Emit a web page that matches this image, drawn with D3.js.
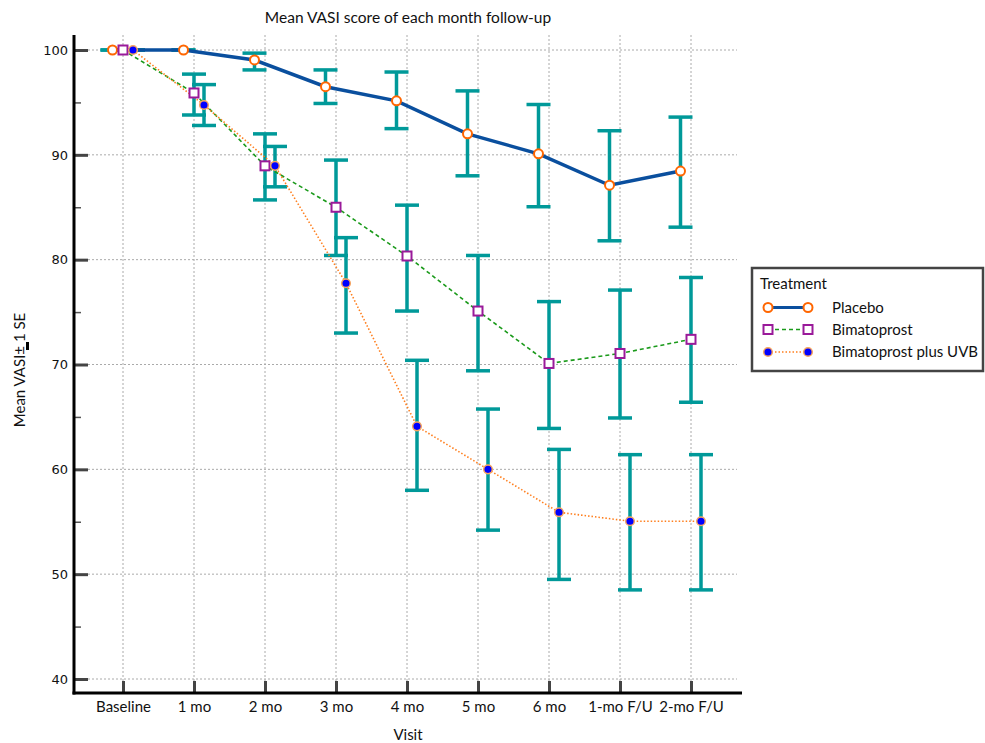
<!DOCTYPE html>
<html><head><meta charset="utf-8">
<script src="https://cdn.jsdelivr.net/npm/d3@7"></script>
<style>body{margin:0;background:#fff}svg{display:block}</style>
</head><body>
<script>
const categories = ["Baseline","1 mo","2 mo","3 mo","4 mo","5 mo","6 mo","1-mo F/U","2-mo F/U"];
const placebo   = [100,100,99.05,96.5,95.15,92.0,90.1,87.1,88.45];
const placeboLo = [100,100,98.1,94.9,92.5,88.0,85.05,81.8,83.1];
const placeboHi = [100,100,99.7,98.1,97.9,96.1,94.8,92.3,93.6];
const bimat   = [100,95.9,88.95,85.0,80.35,75.1,70.1,71.05,72.4];
const bimatLo = [100,93.8,85.7,80.4,75.1,69.4,63.9,64.9,66.4];
const bimatHi = [100,97.7,92.0,89.5,85.2,80.4,76.0,77.1,78.3];
const uvb   = [100,94.75,88.95,77.75,64.1,60.0,55.9,55.05,55.05];
const uvbLo = [100,92.8,86.95,73.0,58.0,54.2,49.5,48.5,48.5];
const uvbHi = [100,96.7,90.8,82.1,70.4,65.75,61.9,61.4,61.4];
const yTicks = [40,50,60,70,80,90,100];
const yMinor = [45,55,65,75,85,95];
const seriesNames = ["Placebo","Bimatoprost","Bimatoprost plus UVB"];

const W=985,H=743;
const svg=d3.select("body").append("svg").attr("width",W).attr("height",H);
const font="Lato, 'Open Sans', sans-serif";
const x=d3.scalePoint().domain(categories).range([123,691]);
const y=d3.scaleLinear().domain([40,100]).range([679,50]);
const axX=74, axY=693, gridRight=737, axRight=742, axTop=35;

// grid
const grid=svg.append("g").attr("stroke","#aaa").attr("stroke-width",1).attr("stroke-dasharray","2,2");
yTicks.forEach(t=>grid.append("line").attr("x1",88).attr("x2",gridRight).attr("y1",y(t)).attr("y2",y(t)));
categories.forEach(c=>grid.append("line").attr("x1",x(c)).attr("x2",x(c)).attr("y1",axTop).attr("y2",axY-12));

// y axis
const ya=svg.append("g").attr("transform",`translate(${axX},0)`)
  .call(d3.axisLeft(y).tickValues(yTicks).tickSize(-14).tickPadding(6).tickFormat(d3.format("d")));
ya.select(".domain").remove();
ya.selectAll(".tick line").attr("stroke","#444").attr("stroke-width",3);
ya.selectAll(".tick text").attr("font-family","'DejaVu Sans', sans-serif").attr("font-size",13).attr("fill","#111")
  .attr("x",-6);
const ym=svg.append("g").attr("transform",`translate(${axX},0)`)
  .call(d3.axisLeft(y).tickValues(yMinor).tickSize(-7).tickFormat(""));
ym.select(".domain").remove();
ym.selectAll(".tick line").attr("stroke","#555").attr("stroke-width",1.5);

// x axis
const xa=svg.append("g").attr("transform",`translate(0,${axY})`)
  .call(d3.axisBottom(x).tickSize(-12).tickPadding(8));
xa.select(".domain").remove();
xa.selectAll(".tick line").attr("stroke","#444").attr("stroke-width",3);
xa.selectAll(".tick text").attr("font-family",font).attr("font-size",15).attr("fill","#111");

// axis lines
svg.append("line").attr("x1",axX).attr("x2",axX).attr("y1",axTop).attr("y2",axY+1.5).attr("stroke","#000").attr("stroke-width",3);
svg.append("line").attr("x1",axX-1.5).attr("x2",axRight).attr("y1",axY).attr("y2",axY).attr("stroke","#000").attr("stroke-width",3);

// titles
svg.append("text").attr("x",408).attr("y",23).attr("text-anchor","middle").attr("font-family",font).attr("font-size",15.5).attr("fill","#111")
  .text("Mean VASI score of each month follow-up");
svg.append("text").attr("x",408).attr("y",740).attr("text-anchor","middle").attr("font-family",font).attr("font-size",15).attr("fill","#111").text("Visit");
const yl=svg.append("g").attr("transform","translate(25,370) rotate(-90)");
yl.append("text").attr("text-anchor","middle").attr("font-family",font).attr("font-size",15).attr("fill","#111").text("Mean VASI± 1 SE");
yl.append("rect").attr("x",20).attr("y",1).attr("width",8).attr("height",3).attr("fill","#000");

// series
const series=[
  {name:seriesNames[0],v:placebo,lo:placeboLo,hi:placeboHi,off:-10.5},
  {name:seriesNames[1],v:bimat,lo:bimatLo,hi:bimatHi,off:0},
  {name:seriesNames[2],v:uvb,lo:uvbLo,hi:uvbHi,off:10}
];
const eb=svg.append("g").attr("stroke","#009999").attr("stroke-width",3.5);
series.forEach(s=>{
  categories.forEach((c,i)=>{
    const cx=x(c)+s.off;
    eb.append("line").attr("x1",cx).attr("x2",cx).attr("y1",y(s.hi[i])).attr("y2",y(s.lo[i]));
    eb.append("line").attr("x1",cx-12).attr("x2",cx+12).attr("y1",y(s.hi[i])).attr("y2",y(s.hi[i]));
    eb.append("line").attr("x1",cx-12).attr("x2",cx+12).attr("y1",y(s.lo[i])).attr("y2",y(s.lo[i]));
  });
});
const lineStyles=[
  {stroke:"#0a4f9e",w:3.5,dash:null},
  {stroke:"#1a9a1a",w:1.6,dash:"4,3"},
  {stroke:"#ff7f1e",w:1.6,dash:"1.5,2"}
];
series.forEach((s,k)=>{
  const ln=d3.line().x((d,i)=>x(categories[i])+s.off).y(d=>y(d));
  svg.append("path").attr("d",ln(s.v)).attr("fill","none").attr("stroke",lineStyles[k].stroke)
    .attr("stroke-width",lineStyles[k].w).attr("stroke-dasharray",lineStyles[k].dash);
});
function marker(g,k,cx,cy){
  if(k===0) g.append("circle").attr("cx",cx).attr("cy",cy).attr("r",4.5).attr("fill","#fff").attr("stroke","#ff6600").attr("stroke-width",2);
  else if(k===1) g.append("rect").attr("x",cx-4.5).attr("y",cy-4.5).attr("width",9).attr("height",9).attr("fill","#fff").attr("stroke","#9a1a9a").attr("stroke-width",2);
  else g.append("circle").attr("cx",cx).attr("cy",cy).attr("r",4.3).attr("fill","#0000ff").attr("stroke","#f7a560").attr("stroke-width",1.5);
}
const mk=svg.append("g");
series.forEach((s,k)=>{
  s.v.forEach((d,i)=>marker(mk,k,x(categories[i])+s.off,y(d)));
});

// legend
const lg=svg.append("g");
lg.append("rect").attr("x",752).attr("y",268).attr("width",231).attr("height",103).attr("fill","#fff").attr("stroke","#444").attr("stroke-width",2.5);
lg.append("text").attr("x",760).attr("y",289).attr("font-family",font).attr("font-size",15).attr("fill","#111").text("Treatment");
const ly=[307.5,329.5,352];
series.forEach((s,k)=>{
  lg.append("line").attr("x1",768).attr("x2",808).attr("y1",ly[k]).attr("y2",ly[k]).attr("stroke",lineStyles[k].stroke)
    .attr("stroke-width",k===0?3:lineStyles[k].w).attr("stroke-dasharray",lineStyles[k].dash);
  marker(lg,k,768,ly[k]); marker(lg,k,808,ly[k]);
  lg.append("text").attr("x",832).attr("y",ly[k]+5).attr("font-family",font).attr("font-size",15).attr("fill","#111").text(s.name);
});
</script>
</body></html>
